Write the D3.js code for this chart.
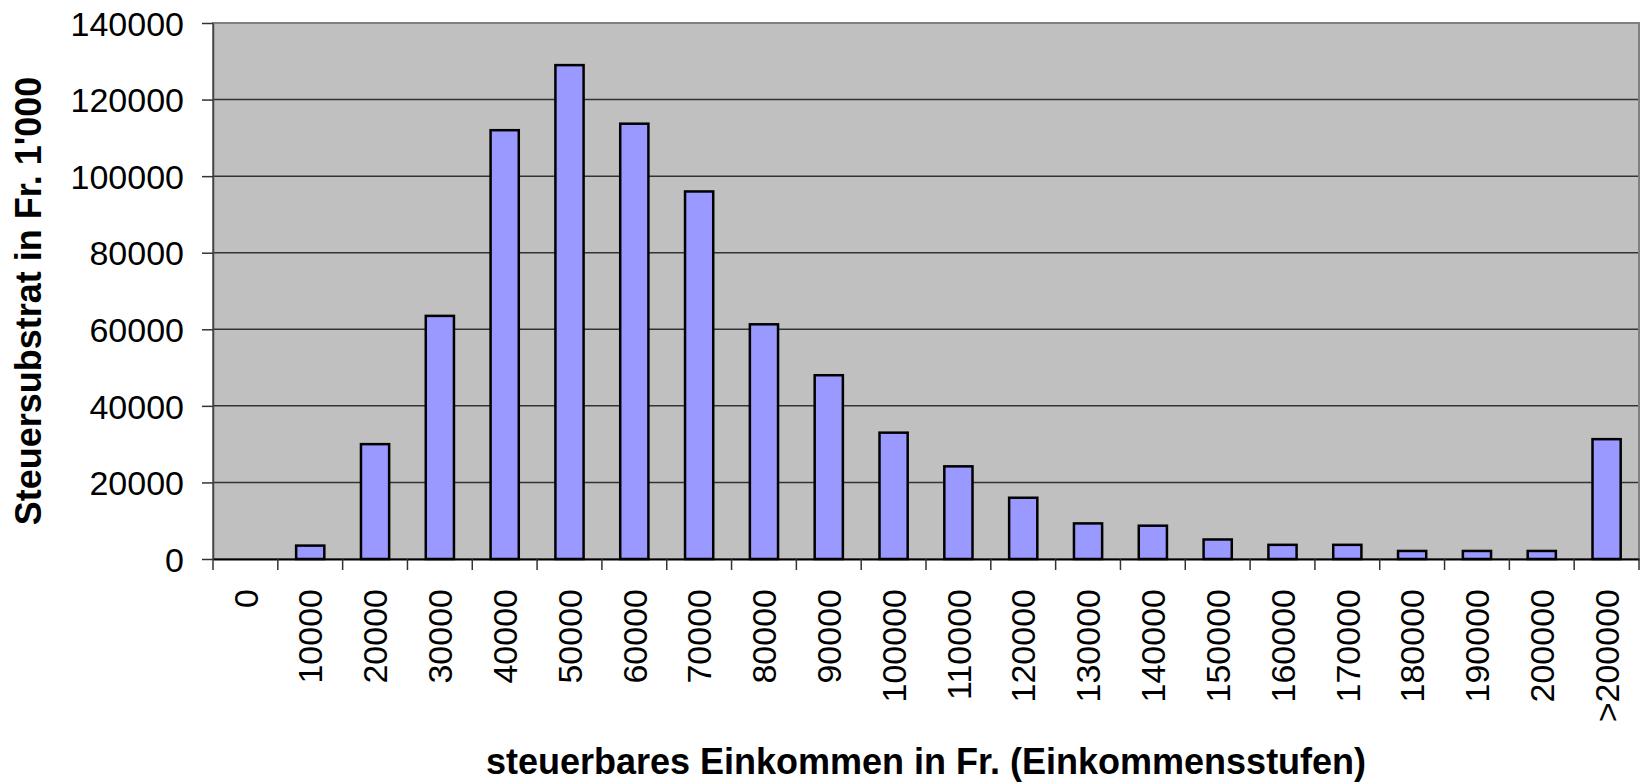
<!DOCTYPE html>
<html>
<head>
<meta charset="utf-8">
<script src="https://cdn.jsdelivr.net/npm/d3@7"></script>
<style>
  body { margin: 0; background: #fff; }
  text { font-family: "Liberation Sans", Arial, sans-serif; fill: #000; }
</style>
</head>
<body>
<div class="chart"></div>
<script>
// Data.
const categories = ['0', '10000', '20000', '30000', '40000', '50000', '60000', '70000',
  '80000', '90000', '100000', '110000', '120000', '130000', '140000', '150000',
  '160000', '170000', '180000', '190000', '200000', '>200000'];
const values = [0, 3500, 30000, 63500, 112000, 129000, 113700, 96000,
  61300, 48000, 33000, 24200, 16000, 9300, 8700, 5100,
  3700, 3700, 2100, 2100, 2100, 31300];
const yTicks = [0, 20000, 40000, 60000, 80000, 100000, 120000, 140000];

const data = categories.map((c, i) => ({stufe: c, wert: values[i]}));

// Margin convention.
const W = 1647, H = 782;
const margin = {top: 23, right: 8, bottom: 223, left: 213};
const width = W - margin.left - margin.right;
const height = H - margin.top - margin.bottom;

// Scales.
const xScale = d3.scaleBand()
  .domain(categories)
  .range([0, width])
  .padding(0);

const yScale = d3.scaleLinear()
  .domain([0, 140000])
  .range([height, 0]);

const barWidth = xScale.bandwidth() / 2.3;

// Draw base.
const svg = d3.select('.chart')
  .append('svg')
  .attr('width', W)
  .attr('height', H)
  .append('g')
  .attr('transform', `translate(${margin.left}, ${margin.top})`);

svg.append('rect')
  .attr('width', width)
  .attr('height', height)
  .style('fill', '#c0c0c0');

// Grid lines.
svg.append('g')
  .selectAll('line')
  .data(yTicks.slice(1))
  .enter()
  .append('line')
  .attr('x1', 0)
  .attr('x2', width)
  .attr('y1', d => yScale(d))
  .attr('y2', d => yScale(d))
  .style('stroke', '#333')
  .style('stroke-width', 1.5);

// Plot border.
svg.append('rect')
  .attr('width', width)
  .attr('height', height)
  .style('fill', 'none')
  .style('stroke', '#808080')
  .style('stroke-width', 2);

// Draw bars.
svg.selectAll('.bar')
  .data(data)
  .enter()
  .append('rect')
  .attr('class', 'bar')
  .attr('x', d => xScale(d.stufe) + (xScale.bandwidth() - barWidth) / 2)
  .attr('y', d => yScale(d.wert))
  .attr('width', barWidth)
  .attr('height', d => height - yScale(d.wert))
  .style('fill', '#9999ff')
  .style('stroke', '#000')
  .style('stroke-width', 2.5)
  .style('display', d => d.wert > 0 ? null : 'none');

// Draw axes.
const yAxis = d3.axisLeft(yScale)
  .tickValues(yTicks)
  .tickFormat(d => d)
  .tickSizeInner(11)
  .tickSizeOuter(0)
  .tickPadding(18);

const yAxisDraw = svg.append('g')
  .attr('class', 'y axis')
  .call(yAxis);

yAxisDraw.select('.domain').style('stroke', '#444').style('stroke-width', 1.5);
yAxisDraw.selectAll('.tick line').style('stroke', '#333').style('stroke-width', 1.5);
yAxisDraw.selectAll('text')
  .style('font-size', '34px')
  .attr('dy', '0.36em');

const xAxis = d3.axisBottom(xScale)
  .tickSize(0)
  .tickPadding(0);

const xAxisDraw = svg.append('g')
  .attr('class', 'x axis')
  .attr('transform', `translate(0, ${height})`)
  .call(xAxis);

xAxisDraw.select('.domain').style('stroke', '#000').style('stroke-width', 2);

// Tick marks at category boundaries.
xAxisDraw.selectAll('.boundary')
  .data(categories.concat(['end']))
  .enter()
  .append('line')
  .attr('class', 'boundary')
  .attr('x1', (d, i) => i * xScale.step())
  .attr('x2', (d, i) => i * xScale.step())
  .attr('y1', 0)
  .attr('y2', 11)
  .style('stroke', '#333')
  .style('stroke-width', 1.5);

xAxisDraw.selectAll('.tick text')
  .style('font-size', '34px')
  .attr('text-anchor', 'end')
  .attr('transform', 'rotate(-90)')
  .attr('x', -30)
  .attr('y', 0)
  .attr('dy', '0.36em');

// Axis titles.
svg.append('text')
  .attr('transform', `translate(${-margin.left + 41}, ${height / 2 + 10}) rotate(-90)`)
  .attr('text-anchor', 'middle')
  .style('font-size', '36px')
  .style('font-weight', 'bold')
  .text("Steuersubstrat in Fr. 1'000");

svg.append('text')
  .attr('x', 926 - margin.left)
  .attr('y', height + 215)
  .attr('text-anchor', 'middle')
  .style('font-size', '36px')
  .style('font-weight', 'bold')
  .text('steuerbares Einkommen in Fr. (Einkommensstufen)');
</script>
</body>
</html>
